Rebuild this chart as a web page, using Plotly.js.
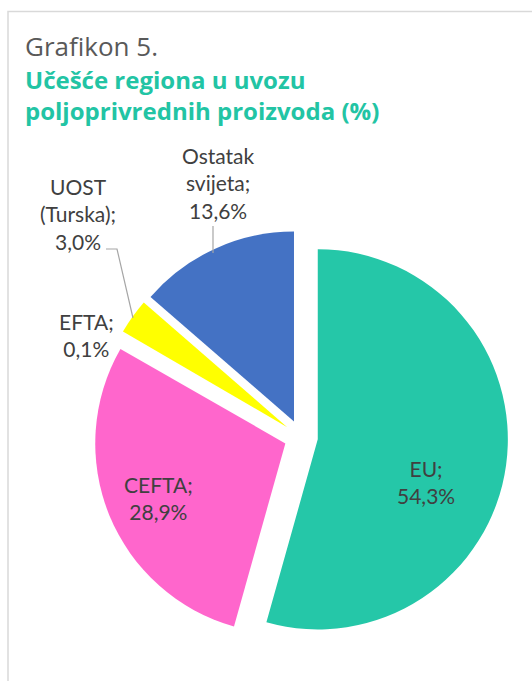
<!DOCTYPE html>
<html>
<head>
<meta charset="utf-8">
<script src="https://cdn.plot.ly/plotly-3.0.1.min.js"></script>
<style>html,body{margin:0;padding:0;background:#fff;}#chart{width:532px;height:681px;}</style>
</head>
<body>
<div id="chart"></div>
<script>
// Data
var categories = ["EU", "CEFTA", "EFTA", "UOST (Turska)", "Ostatak svijeta"];
var shares = [54.3, 28.9, 0.1, 3.0, 13.6];
var labelText = ["EU;", "CEFTA;", "EFTA;", "UOST<br>(Turska);", "Ostatak<br>svijeta;"];
var sliceColors = ["#25C7A8", "#FF66CC", "#FFFFFF", "#FFFF00", "#4472C4"];
var titleLine1 = "Grafikon 5.";
var titleLine2 = "Učešće regiona u uvozu<br>poljoprivrednih proizvoda (%)";

function fmt(v) { return v.toFixed(1).replace('.', ',') + '%'; }

var W = 532, H = 681;
function px(x) { return x / W; }
function py(y) { return 1 - y / H; }

// label placement (pixel centres)
var labelPos = [[426, 482], [158, 498], [86, 335], [78, 214], [218, 183]];

var annotations = [
  {text: titleLine1, xref: 'paper', yref: 'paper', x: px(23), y: py(26), xanchor: 'left', yanchor: 'top',
   showarrow: false, align: 'left', font: {family: 'Open Sans', size: 26, color: '#595959'}},
  {text: '<b>' + titleLine2 + '</b>', xref: 'paper', yref: 'paper', x: px(23), y: py(61), xanchor: 'left', yanchor: 'top',
   showarrow: false, align: 'left', font: {family: 'Open Sans', size: 24, color: '#22C4A4'}}
];
for (var i = 0; i < categories.length; i++) {
  annotations.push({
    text: labelText[i] + '<br>' + fmt(shares[i]),
    xref: 'paper', yref: 'paper', x: px(labelPos[i][0]), y: py(labelPos[i][1]),
    xanchor: 'center', yanchor: 'middle', showarrow: false, align: 'center',
    font: {family: 'Lato', size: 21, color: '#404040'}
  });
}

var shapes = [
  {type: 'rect', xref: 'paper', yref: 'paper', x0: px(8), x1: 1.1, y0: -0.1, y1: py(11.5),
   line: {color: '#D9D9D9', width: 1.5}, fillcolor: 'rgba(0,0,0,0)'},
  {type: 'path', xref: 'paper', yref: 'paper',
   path: 'M ' + px(213) + ' ' + py(226) + ' L ' + px(213) + ' ' + py(253),
   line: {color: '#A6A6A6', width: 1.2}},
  {type: 'path', xref: 'paper', yref: 'paper',
   path: 'M ' + px(106) + ' ' + py(249) + ' L ' + px(117) + ' ' + py(249) + ' L ' + px(133) + ' ' + py(318),
   line: {color: '#A6A6A6', width: 1.2}}
];

var trace = {
  type: 'pie',
  labels: categories,
  values: shares,
  sort: false,
  direction: 'clockwise',
  rotation: 0,
  pull: 0.089,
  marker: {colors: sliceColors, line: {color: '#FFFFFF', width: 0}},
  textinfo: 'none',
  hoverinfo: 'label+percent',
  domain: {x: [0.1767, 0.9549], y: [0.0543, 0.6623]},
  showlegend: false
};

var layout = {
  width: W, height: H,
  margin: {l: 0, r: 0, t: 0, b: 0},
  paper_bgcolor: '#FFFFFF',
  showlegend: false,
  annotations: annotations,
  shapes: shapes
};

Plotly.newPlot('chart', [trace], layout, {displayModeBar: false, staticPlot: true});
</script>
</body>
</html>
